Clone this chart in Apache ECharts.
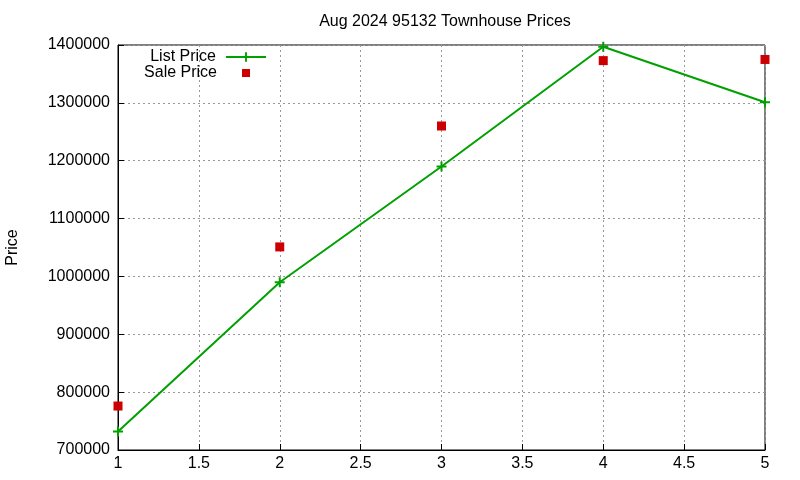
<!DOCTYPE html>
<html>
<head>
<meta charset="utf-8">
<script src="https://cdn.jsdelivr.net/npm/echarts@6/dist/echarts.min.js"></script>
<style>
  html, body { margin: 0; padding: 0; background: #fff; }
  #chart { width: 800px; height: 480px; }
</style>
</head>
<body>
<div id="chart"></div>
<script>
// data
const months = [1, 2, 3, 4, 5]
const listPrice = [732000, 990000, 1190000, 1397000, 1301000]
const salePrice = [776000, 1051000, 1260000, 1373000, 1375000]

const font = 'Liberation Sans, Arial, sans-serif'
const plusIcon = 'path://M4,0h2v4h4v2h-4v4h-2v-4h-4v-2h4z'

const chart = echarts.init(document.getElementById('chart'))
chart.setOption({
  animation: false,
  title: {
    text: 'Aug 2024 95132 Townhouse Prices',
    left: 440,
    top: 9,
    textAlign: 'center',
    textStyle: { fontFamily: font, fontSize: 16, fontWeight: 'normal', color: '#000' }
  },
  legend: [
    {
      data: ['List Price'],
      right: 533,
      top: 49,
      padding: 0,
      align: 'right',
      itemWidth: 40,
      itemHeight: 12,
      textStyle: { fontFamily: font, fontSize: 16, color: '#000', padding: [0, 5, 0, 0] }
    },
    {
      data: [{ name: 'Sale Price', icon: 'rect' }],
      right: 550,
      top: 65,
      padding: 0,
      align: 'right',
      itemWidth: 8,
      itemHeight: 8,
      textStyle: { fontFamily: font, fontSize: 16, color: '#000', padding: [0, 20, 0, 0] }
    }
  ],
  grid: {
    left: 118,
    right: 35,
    top: 45,
    bottom: 30,
    outerBoundsMode: 'none',
    show: true,
    borderColor: '#000',
    borderWidth: 1
  },
  xAxis: {
    type: 'value',
    min: 1,
    max: 5,
    interval: 0.5,
    axisLine: { show: true, lineStyle: { color: '#000' } },
    axisTick: { show: true, inside: true, length: 6, lineStyle: { color: '#000' } },
    axisLabel: { fontFamily: font, fontSize: 16, color: '#000', margin: 6 },
    splitLine: { show: true, lineStyle: { color: '#999', type: [2, 3] } }
  },
  yAxis: {
    type: 'value',
    min: 700000,
    max: 1400000,
    interval: 100000,
    name: 'Price',
    nameLocation: 'middle',
    nameGap: 97,
    nameTextStyle: { fontFamily: font, fontSize: 16, color: '#000' },
    axisLine: { show: true, lineStyle: { color: '#000' } },
    axisTick: { show: true, inside: true, length: 6, lineStyle: { color: '#000' } },
    axisLabel: { fontFamily: font, fontSize: 16, color: '#000', margin: 8, formatter: v => String(v) },
    splitLine: { show: true, lineStyle: { color: '#999', type: [2, 3] } }
  },
  series: [
    {
      name: 'List Price',
      type: 'line',
      data: months.map((m, i) => [m, listPrice[i]]),
      symbol: plusIcon,
      symbolSize: 10,
      showAllSymbol: true,
      lineStyle: { color: '#00a000', width: 2 },
      itemStyle: { color: '#00a000' },
      z: 3
    },
    {
      name: 'Sale Price',
      type: 'scatter',
      data: months.map((m, i) => [m, salePrice[i]]),
      symbol: 'rect',
      symbolSize: 9,
      itemStyle: { color: '#cc0000', opacity: 1 },
      z: 2
    }
  ]
})
</script>
</body>
</html>
